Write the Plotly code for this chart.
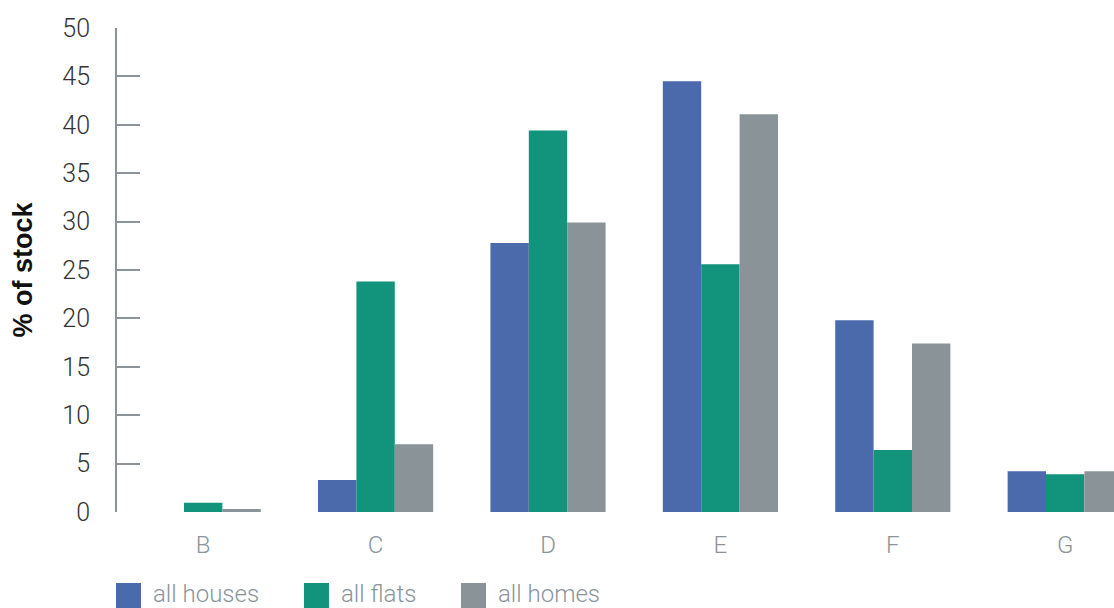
import plotly.graph_objects as go

categories = ["B", "C", "D", "E", "F", "G"]
houses = [0.0, 3.3, 27.8, 44.5, 19.8, 4.2]
flats = [0.95, 23.8, 39.4, 25.6, 6.4, 3.9]
homes = [0.3, 7.0, 29.9, 41.1, 17.4, 4.2]
series_names = ["all houses", "all flats", "all homes"]
colors = ["#4a6aab", "#12937b", "#8a9498"]
y_ticks = [0, 5, 10, 15, 20, 25, 30, 35, 40, 45, 50]

W, H = 1114, 608
L, R, T, B = 117, 0, 28, 96
PW, PH = W - L - R, H - T - B

fig = go.Figure()
for name, vals, col in zip(series_names, [houses, flats, homes], colors):
    fig.add_trace(go.Bar(x=categories, y=vals, name=name, marker=dict(color=col, line=dict(width=0)),
                         showlegend=False))

font_fam = "Roboto, 'Helvetica Neue', Arial, sans-serif"

fig.update_layout(
    width=W, height=H,
    margin=dict(l=L, r=R, t=T, b=B),
    paper_bgcolor="white", plot_bgcolor="white",
    barmode="group", bargap=0.332, bargroupgap=0,
    font=dict(family=font_fam),
    xaxis=dict(range=[-0.5, -0.5 + PW / 172.4], showgrid=False, zeroline=False, showline=False,
               ticks="", tickfont=dict(size=24, color="#8a949a", weight=300),
               ticklabelstandoff=16),
    yaxis=dict(range=[0, 50], tickvals=y_ticks, showgrid=False, zeroline=False,
               showline=True, linecolor="#8a949a", linewidth=2,
               ticks="inside", ticklen=23, tickwidth=2, tickcolor="#8a949a",
               tickfont=dict(size=25, color="#333333", weight=300),
               ticklabelstandoff=20,
               title=dict(text="% of stock",
                          font=dict(family="'Liberation Sans', Arial, sans-serif", size=27,
                                    color="#111111", weight="bold"),
                          standoff=22)),
    showlegend=False,
)

# manual legend (large square swatches)
leg_items = [(116, 151), (304, 339), (461, 496)]


def px_x(p):
    return (p - L) / PW


def px_y(p):
    return (T + PH - p) / PH


for (sx, tx), name, col in zip(leg_items, series_names, colors):
    fig.add_shape(type="rect", xref="paper", yref="paper",
                  x0=px_x(sx), x1=px_x(sx + 25), y0=px_y(583), y1=px_y(608),
                  fillcolor=col, line=dict(width=0))
    fig.add_annotation(xref="paper", yref="paper", x=px_x(tx), y=px_y(594),
                       xanchor="left", yanchor="middle", showarrow=False,
                       text=name, font=dict(size=24, color="#8a949a", weight=300))

fig.write_html("out.html", config={"displayModeBar": False},
               post_script="document.body.style.margin='0';")
